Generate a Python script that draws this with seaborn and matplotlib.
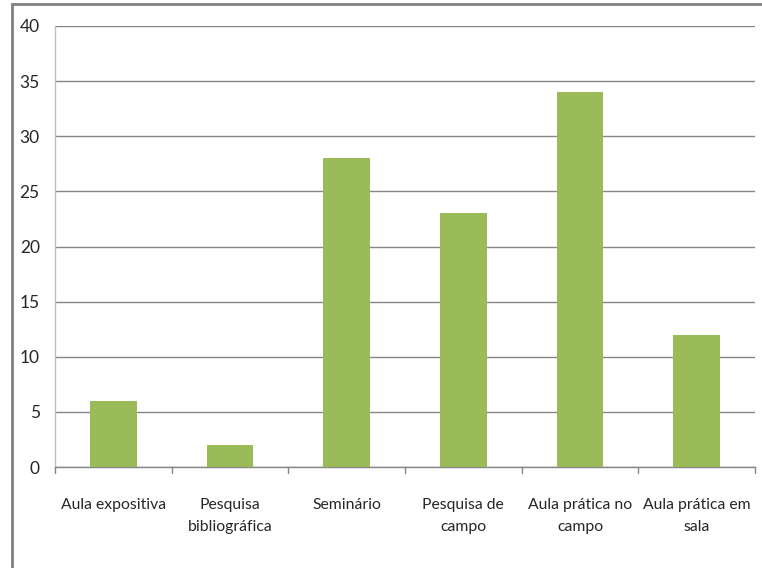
import matplotlib
matplotlib.use("Agg")
import matplotlib.pyplot as plt
from matplotlib.patches import Rectangle
import seaborn as sns
import pandas as pd

categories = ["Aula expositiva", "Pesquisa\nbibliográfica", "Seminário",
              "Pesquisa de\ncampo", "Aula prática no\ncampo", "Aula prática em\nsala"]
values = [6, 2, 28, 23, 34, 12]
y_ticks = [0, 5, 10, 15, 20, 25, 30, 35, 40]

sns.set_theme(style="white")
plt.rcParams["font.family"] = ["Lato", "DejaVu Sans"]

df = pd.DataFrame({"categoria": categories, "valor": values})

fig = plt.figure(figsize=(7.62, 5.68), dpi=100)
ax = fig.add_axes([55 / 762, 1 - 467 / 568, 700 / 762, 441 / 568])

sns.barplot(data=df, x="categoria", y="valor", color="#9BBB59", saturation=1,
            width=0.4, linewidth=0, ax=ax, zorder=3)

ax.set_ylim(0, 40)
ax.set_xlim(-0.5, len(categories) - 0.5)
ax.set_yticks(y_ticks)
ax.set_yticklabels([str(v) for v in y_ticks], fontsize=12.5, color="#262626")
for lbl in ax.get_xticklabels():
    lbl.set_linespacing(1.75)
ax.set_xlabel("")
ax.set_ylabel("")
ax.tick_params(axis="x", length=0, pad=22, labelsize=11.3, labelcolor="#262626")
ax.tick_params(axis="y", length=5, width=1, color="#868686", pad=6)
ax.yaxis.grid(True, color="#868686", linewidth=1, zorder=0)
ax.set_axisbelow(True)

for side in ["top", "right"]:
    ax.spines[side].set_visible(False)
ax.spines["left"].set_color("#BFBFBF")
ax.spines["bottom"].set_color("#868686")
ax.spines["left"].set_linewidth(1)
ax.spines["bottom"].set_linewidth(1)

# category boundary ticks on the bottom axis
for b in [i - 0.5 for i in range(len(categories) + 1)]:
    ax.plot([b, b], [0, -0.5], color="#868686", linewidth=1, clip_on=False, zorder=4)

# chart frame
fig.patches.append(Rectangle((12 / 762, -0.1), 1.2, 1 - 4 / 568 + 0.1,
                             transform=fig.transFigure, fill=False,
                             edgecolor="#808080", linewidth=2))

fig.savefig("out.png", dpi=100)
